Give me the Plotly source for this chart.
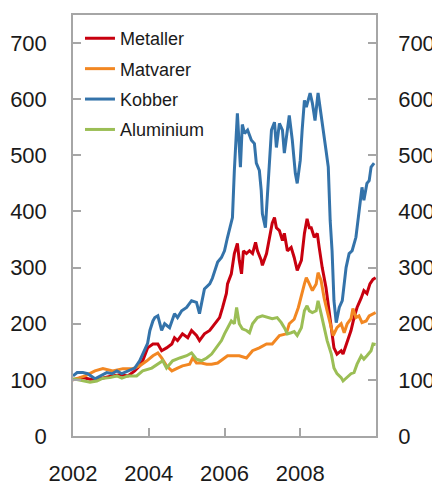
import plotly.graph_objects as go

# ---- data (decimal years, index 2002 = 100) ----
kobber_x = [2002.00, 2002.11, 2002.26, 2002.39, 2002.58, 2002.71, 2002.89, 2003.03, 2003.16, 2003.29,
            2003.45, 2003.63, 2003.76, 2003.89, 2003.97, 2004.03, 2004.11, 2004.16, 2004.24, 2004.34,
            2004.42, 2004.55, 2004.68, 2004.76, 2004.87, 2005.00, 2005.13, 2005.26, 2005.34, 2005.47,
            2005.61, 2005.68, 2005.82, 2005.92, 2006.00, 2006.08, 2006.21, 2006.26, 2006.32, 2006.34,
            2006.42, 2006.47, 2006.53, 2006.61, 2006.71, 2006.79, 2006.84, 2006.92, 2006.97, 2007.00,
            2007.08, 2007.13, 2007.18, 2007.24, 2007.32, 2007.37, 2007.45, 2007.53, 2007.58, 2007.71,
            2007.79, 2007.87, 2007.92, 2008.00, 2008.05, 2008.11, 2008.16, 2008.26, 2008.32, 2008.39,
            2008.47, 2008.55, 2008.63, 2008.68, 2008.74, 2008.79, 2008.84, 2008.89, 2008.95, 2009.03,
            2009.11, 2009.21, 2009.29, 2009.37, 2009.47, 2009.55, 2009.61, 2009.63, 2009.68, 2009.76,
            2009.82, 2009.87, 2009.95]
kobber_y = [107, 113, 113, 111, 102, 107, 113, 111, 116, 111,
            116, 121, 134, 152, 165, 188, 205, 211, 214, 188,
            200, 193, 218, 211, 223, 229, 241, 238, 218, 262,
            271, 281, 310, 318, 330, 354, 389, 473, 568, 575,
            479, 555, 539, 545, 527, 521, 486, 473, 437, 396,
            371, 425, 461, 545, 559, 514, 557, 545, 504, 571,
            527, 468, 450, 491, 545, 598, 586, 611, 593, 562,
            611, 575, 532, 509, 479, 384, 330, 241, 202, 229,
            241, 300, 325, 330, 354, 396, 437, 443, 420, 450,
            455, 479, 486]

metaller_x = [2002.00, 2002.26, 2002.45, 2002.71, 2002.97, 2003.24, 2003.45, 2003.63, 2003.76, 2003.84,
              2003.97, 2004.11, 2004.24, 2004.34, 2004.47, 2004.61, 2004.68, 2004.76, 2004.89, 2005.03,
              2005.13, 2005.26, 2005.34, 2005.47, 2005.61, 2005.74, 2005.87, 2005.95, 2006.00, 2006.05,
              2006.08, 2006.18, 2006.26, 2006.34, 2006.39, 2006.45, 2006.50, 2006.58, 2006.66, 2006.74,
              2006.82, 2006.87, 2006.97, 2007.00, 2007.11, 2007.18, 2007.26, 2007.32, 2007.37, 2007.45,
              2007.53, 2007.58, 2007.66, 2007.76, 2007.84, 2007.92, 2008.03, 2008.11, 2008.18, 2008.24,
              2008.29, 2008.37, 2008.45, 2008.50, 2008.58, 2008.68, 2008.76, 2008.84, 2008.89, 2008.97,
              2009.08, 2009.13, 2009.24, 2009.34, 2009.42, 2009.50, 2009.61, 2009.68, 2009.76, 2009.84,
              2009.92, 2009.99]
metaller_y = [100, 104, 101, 102, 106, 109, 107, 116, 125, 134,
              157, 164, 164, 152, 157, 164, 175, 170, 182, 175,
              188, 179, 170, 182, 188, 200, 211, 229, 241, 254,
              271, 289, 325, 343, 313, 289, 330, 325, 330, 325,
              345, 330, 313, 304, 325, 354, 379, 389, 371, 366,
              348, 361, 330, 336, 318, 295, 313, 361, 387, 371,
              371, 354, 361, 336, 300, 264, 223, 182, 157, 146,
              152, 146, 170, 188, 211, 229, 246, 259, 254, 271,
              279, 282]

matvarer_x = [2002.00, 2002.32, 2002.58, 2002.79, 2003.05, 2003.32, 2003.58, 2003.76, 2003.95, 2004.11,
              2004.24, 2004.34, 2004.47, 2004.61, 2004.76, 2004.89, 2005.08, 2005.16, 2005.26, 2005.39,
              2005.53, 2005.66, 2005.82, 2006.00, 2006.08, 2006.21, 2006.39, 2006.58, 2006.74, 2006.92,
              2007.11, 2007.26, 2007.45, 2007.63, 2007.71, 2007.84, 2007.95, 2008.11, 2008.16, 2008.24,
              2008.32, 2008.42, 2008.47, 2008.55, 2008.63, 2008.71, 2008.82, 2008.87, 2008.97, 2009.08,
              2009.16, 2009.24, 2009.34, 2009.39, 2009.47, 2009.55, 2009.63, 2009.74, 2009.82, 2009.92,
              2009.99]
matvarer_y = [100, 107, 116, 120, 116, 120, 120, 125, 134, 143,
              148, 139, 125, 116, 121, 125, 128, 139, 130, 130,
              128, 128, 130, 139, 143, 143, 143, 139, 152, 157,
              164, 164, 179, 182, 200, 208, 229, 271, 282, 271,
              259, 271, 291, 277, 246, 223, 193, 179, 193, 200,
              184, 200, 209, 227, 211, 214, 202, 205, 214, 218,
              220]

aluminium_x = [2002.00, 2002.18, 2002.45, 2002.63, 2002.79, 2002.97, 2003.16, 2003.29, 2003.45, 2003.68,
               2003.84, 2004.08, 2004.24, 2004.37, 2004.47, 2004.63, 2004.82, 2005.00, 2005.13, 2005.26,
               2005.39, 2005.53, 2005.66, 2005.79, 2005.92, 2006.00, 2006.08, 2006.18, 2006.26, 2006.32,
               2006.39, 2006.47, 2006.58, 2006.66, 2006.74, 2006.87, 2007.00, 2007.13, 2007.26, 2007.39,
               2007.50, 2007.58, 2007.66, 2007.76, 2007.84, 2007.92, 2008.03, 2008.11, 2008.18, 2008.24,
               2008.32, 2008.42, 2008.47, 2008.55, 2008.63, 2008.71, 2008.82, 2008.89, 2008.97, 2009.08,
               2009.13, 2009.24, 2009.34, 2009.42, 2009.50, 2009.61, 2009.68, 2009.76, 2009.87, 2009.92,
               2009.99]
aluminium_y = [102, 100, 96, 98, 103, 104, 107, 103, 107, 107,
               116, 121, 129, 134, 121, 134, 139, 143, 148, 137,
               134, 139, 146, 157, 170, 182, 193, 205, 200, 229,
               200, 191, 188, 184, 200, 211, 214, 211, 209, 211,
               202, 193, 182, 184, 186, 179, 193, 223, 232, 223,
               220, 223, 241, 218, 193, 170, 146, 121, 111, 104,
               98, 104, 111, 113, 128, 143, 137, 143, 152, 164,
               163]

series = [
    ("Metaller", metaller_x, metaller_y, "#c8000f"),
    ("Matvarer", matvarer_x, matvarer_y, "#f28722"),
    ("Kobber", kobber_x, kobber_y, "#3473aa"),
    ("Aluminium", aluminium_x, aluminium_y, "#9bbe55"),
]

x_ticks = [2002, 2004, 2006, 2008]
x_labels = ["2002", "2004", "2006", "2008"]
y_ticks = [0, 100, 200, 300, 400, 500, 600, 700]

FONT = "Liberation Sans"
GREY = "#a6a6a6"

fig = go.Figure()
for name, xs, ys, col in series:
    fig.add_trace(go.Scatter(x=xs, y=ys, mode="lines", name=name, legendgroup=name,
                             line=dict(color=col, width=3)))
# invisible trace for right axis
fig.add_trace(go.Scatter(x=[2002], y=[0], yaxis="y2", mode="lines", showlegend=False,
                         hoverinfo="skip", line=dict(width=0)))

# page body has an 8px default margin, so the figure is drawn 8px smaller
fig.update_layout(
    width=432, height=479,
    margin=dict(l=65, r=64, t=7, b=51),
    paper_bgcolor="white", plot_bgcolor="white",
    font=dict(family=FONT, size=22, color="#1a1a1a"),
    showlegend=True,
    legend=dict(x=0.023, y=0.988, xanchor="left", yanchor="top",
                font=dict(family=FONT, size=18, color="#1a1a1a"),
                bgcolor="rgba(0,0,0,0)", tracegroupgap=4, itemwidth=30),
    xaxis=dict(range=[2002, 2010], tickvals=x_ticks, ticktext=x_labels, automargin=False,
               showgrid=False, zeroline=False, showline=True, linecolor=GREY, linewidth=1.5,
               mirror=True, ticks="inside", ticklen=8, tickcolor=GREY, tickwidth=1.5,
               ticklabelstandoff=17, tickfont=dict(size=22)),
    yaxis=dict(range=[0, 750], tickvals=y_ticks, showgrid=False, zeroline=False, automargin=False,
               showline=True, linecolor=GREY, linewidth=1.5,
               ticks="inside", ticklen=8, tickcolor=GREY, tickwidth=1.5,
               ticklabelstandoff=20, tickfont=dict(size=22)),
    yaxis2=dict(range=[0, 750], tickvals=y_ticks, overlaying="y", side="right", automargin=False,
                showgrid=False, zeroline=False, showline=True, linecolor=GREY, linewidth=1.5,
                ticks="inside", ticklen=8, tickcolor=GREY, tickwidth=1.5,
                ticklabelstandoff=16, tickfont=dict(size=22)),
)

fig.write_html("out.html")
